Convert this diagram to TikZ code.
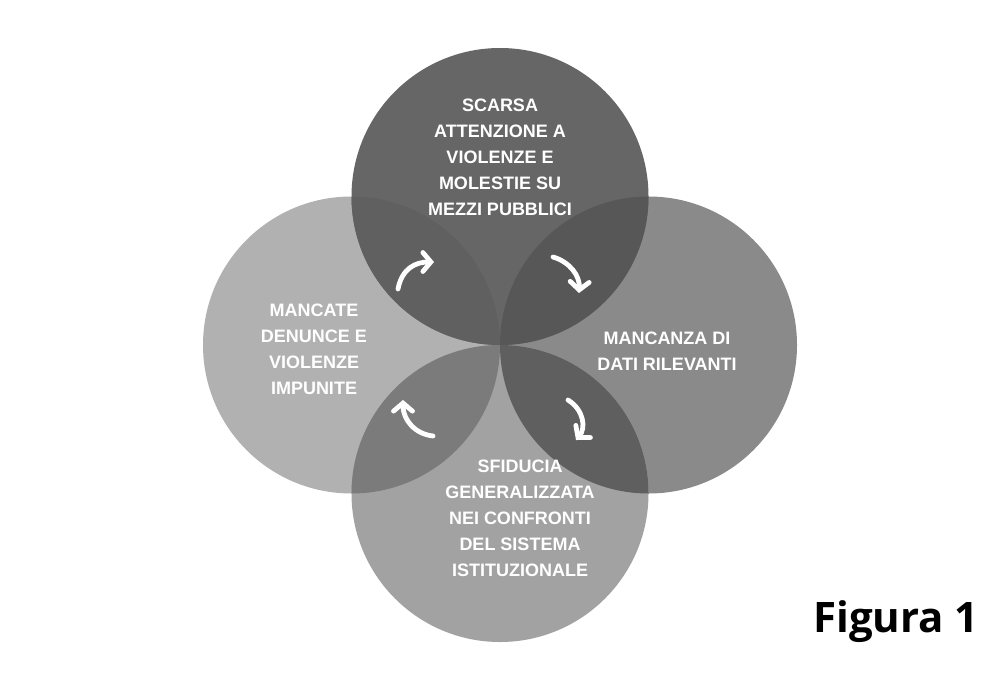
\documentclass[tikz,border=0pt]{standalone}
\usepackage{fontspec}
\setmainfont{Liberation Sans}
\newfontfamily\figfont{Open Sans}
\usetikzlibrary{arrows.meta}
\definecolor{cLeft}{HTML}{B1B1B1}
\definecolor{cRight}{HTML}{8A8A8A}
\definecolor{cBottom}{HTML}{A2A2A2}
\definecolor{cTop}{HTML}{666666}
\definecolor{cTL}{HTML}{606060}
\definecolor{cTR}{HTML}{575757}
\definecolor{cBL}{HTML}{7B7B7B}
\definecolor{cBR}{HTML}{5F5F5F}
\tikzset{
  lbl/.style={text=white, font=\bfseries\fontsize{18}{26}\selectfont, align=center, inner sep=0pt},
  cyc/.style={draw=white, line width=4.8pt, line cap=round, -{Straight Barb[length=8pt,width=19pt,line cap=round]}},
}
\begin{document}
\begin{tikzpicture}[x=1pt,y=-1pt]
\def\R{148.5}
\fill[white] (0,0) rectangle (1000,680);
\useasboundingbox (0,0) rectangle (1000,680);
\coordinate (cT) at (500,196.5);
\coordinate (cB) at (500,493.5);
\coordinate (cL) at (351.5,345);
\coordinate (cR) at (648.5,345);
% base circles
\fill[cLeft] (cL) circle[radius=\R];
\fill[cRight] (cR) circle[radius=\R];
\fill[cBottom] (cB) circle[radius=\R];
\fill[cTop] (cT) circle[radius=\R];
% lenses
\begin{scope}\clip (cT) circle[radius=\R]; \fill[cTL] (cL) circle[radius=\R]; \end{scope}
\begin{scope}\clip (cT) circle[radius=\R]; \fill[cTR] (cR) circle[radius=\R]; \end{scope}
\begin{scope}\clip (cB) circle[radius=\R]; \fill[cBL] (cL) circle[radius=\R]; \end{scope}
\begin{scope}\clip (cB) circle[radius=\R]; \fill[cBR] (cR) circle[radius=\R]; \end{scope}
% labels
\node[lbl] (tTop) at (500,157) {SCARSA\\ATTENZIONE A\\VIOLENZE E\\MOLESTIE SU\\MEZZI PUBBLICI};
\node[lbl] (tLeft) at (314,349) {MANCATE\\DENUNCE E\\VIOLENZE\\IMPUNITE};
\node[lbl] (tRight) at (667,351) {MANCANZA DI\\DATI RILEVANTI};
\node[lbl] (tBottom) at (520,518) {SFIDUCIA\\GENERALIZZATA\\NEI CONFRONTI\\DEL SISTEMA\\ISTITUZIONALE};
% cycle arrows
\coordinate (a1s) at (398,289); \coordinate (a1e) at (434,262);
\coordinate (a2s) at (553,257); \coordinate (a2e) at (579,293);
\coordinate (a3s) at (568,400); \coordinate (a3e) at (576,440);
\coordinate (a4s) at (433,436); \coordinate (a4e) at (403,400);
\draw[cyc] (a1s) .. controls (402,268) and (416,262) .. (a1e);
\draw[cyc] (a2s) .. controls (570,262) and (580,276) .. (a2e);
\draw[cyc] (a3s) .. controls (584,410) and (586,428) .. (a3e);
\draw[cyc] (a4s) .. controls (415,434) and (403,420) .. (a4e);
% caption
\node[font=\figfont\bfseries\fontsize{42}{46}\selectfont, text=black, anchor=base, inner sep=0pt] (cap) at (896,632) {Figura 1};
\end{tikzpicture}
\end{document}
